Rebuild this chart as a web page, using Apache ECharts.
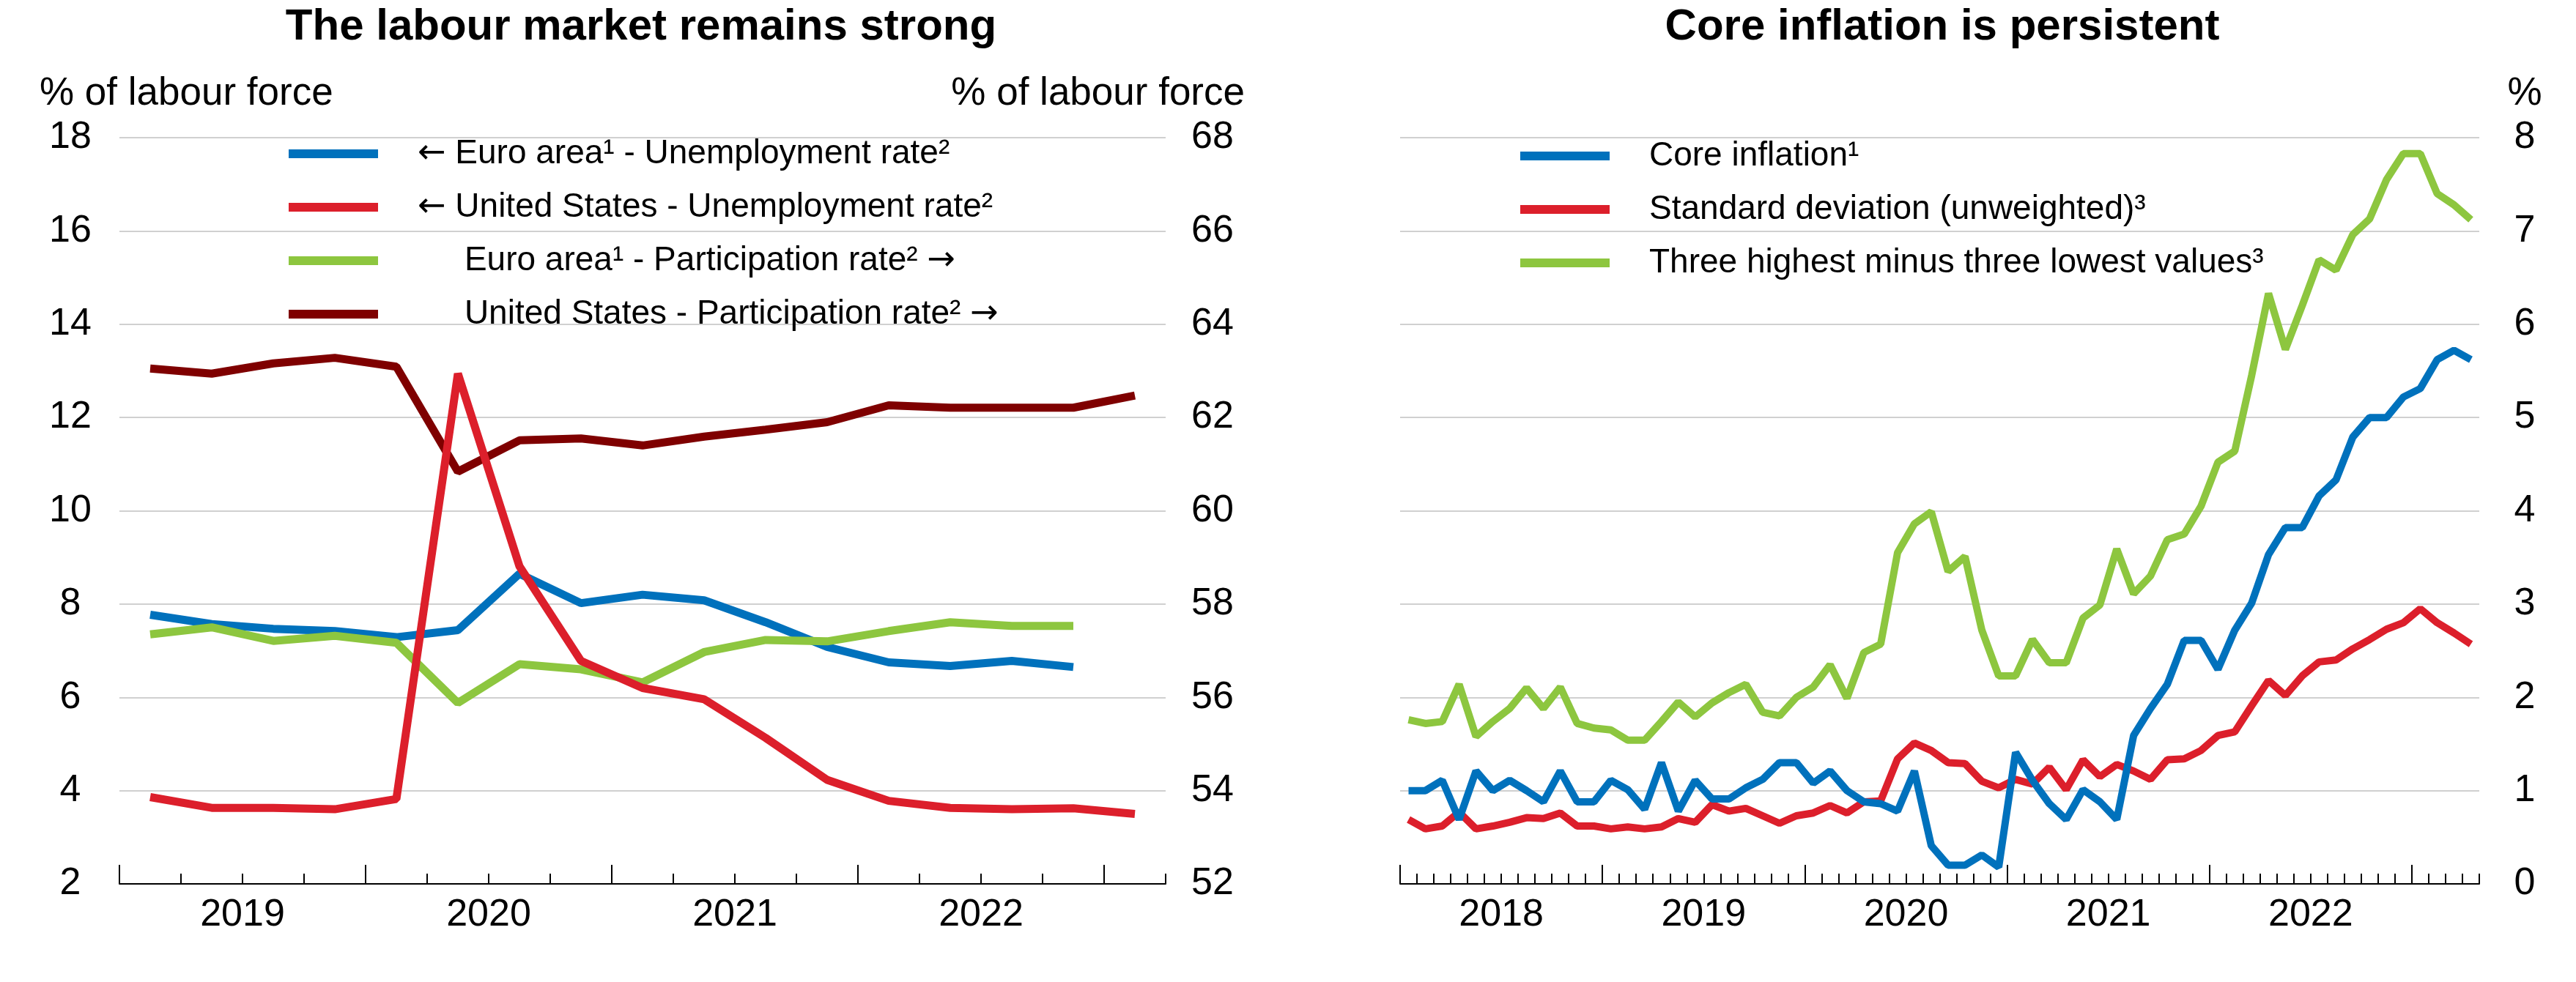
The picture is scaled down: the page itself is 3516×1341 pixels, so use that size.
<!DOCTYPE html>
<html>
<head>
<meta charset="utf-8">
<script src="https://cdn.jsdelivr.net/npm/echarts@6/dist/echarts.min.js"></script>
<style>
html,body{margin:0;padding:0;background:#ffffff;}
#chart{width:3516px;height:1341px;}
</style>
</head>
<body>
<div id="chart"></div>
<script>
// ---------------- Data: left panel (quarterly) ----------------
const quarters = ['2019Q1','2019Q2','2019Q3','2019Q4','2020Q1','2020Q2','2020Q3','2020Q4',
  '2021Q1','2021Q2','2021Q3','2021Q4','2022Q1','2022Q2','2022Q3','2022Q4','2023Q1'];
const euroUnemployment = [7.77, 7.57, 7.47, 7.42, 7.29, 7.44, 8.65, 8.02, 8.20, 8.08, 7.61, 7.08, 6.75, 6.67, 6.78, 6.65];
const usUnemployment = [3.86, 3.63, 3.63, 3.60, 3.82, 12.94, 8.81, 6.78, 6.20, 5.96, 5.13, 4.23, 3.78, 3.63, 3.60, 3.62, 3.50];
const euroParticipation = [57.35, 57.50, 57.21, 57.32, 57.17, 55.88, 56.71, 56.60, 56.32, 56.97, 57.23, 57.20, 57.42, 57.61, 57.53, 57.53];
const usParticipation = [63.05, 62.94, 63.16, 63.28, 63.09, 60.84, 61.51, 61.55, 61.40, 61.59, 61.74, 61.90, 62.26, 62.21, 62.21, 62.21, 62.47];
const leftYears = ['2019', '2020', '2021', '2022'];

// ---------------- Data: right panel (monthly) ----------------
const months = [];
['2018','2019','2020','2021','2022','2023'].forEach(function (y) {
  ['01','02','03','04','05','06','07','08','09','10','11','12'].forEach(function (m) {
    if (months.length < 64) months.push(y + '-' + m);
  });
});
const coreInflation = [1.00, 1.00, 1.11, 0.69, 1.21, 1.00, 1.11, 1.00, 0.88, 1.21, 0.88, 0.88,
  1.11, 1.01, 0.80, 1.30, 0.78, 1.11, 0.91, 0.91, 1.03, 1.12, 1.30, 1.30,
  1.08, 1.21, 1.00, 0.88, 0.86, 0.78, 1.21, 0.41, 0.20, 0.20, 0.31, 0.18,
  1.41, 1.11, 0.86, 0.69, 1.01, 0.88, 0.69, 1.59, 1.88, 2.14, 2.61, 2.61,
  2.30, 2.72, 3.01, 3.53, 3.82, 3.82, 4.16, 4.33, 4.79, 5.00, 5.00, 5.22,
  5.31, 5.62, 5.72, 5.62];
const stdDeviation = [0.69, 0.59, 0.62, 0.77, 0.59, 0.62, 0.66, 0.71, 0.70, 0.76, 0.62, 0.62,
  0.59, 0.61, 0.59, 0.61, 0.70, 0.66, 0.85, 0.78, 0.81, 0.73, 0.65, 0.73,
  0.76, 0.84, 0.76, 0.88, 0.89, 1.34, 1.51, 1.43, 1.30, 1.29, 1.10, 1.03,
  1.12, 1.07, 1.25, 1.01, 1.33, 1.15, 1.28, 1.21, 1.12, 1.33, 1.34, 1.43,
  1.59, 1.63, 1.91, 2.18, 2.02, 2.23, 2.38, 2.40, 2.52, 2.62, 2.73, 2.80,
  2.95, 2.80, 2.69, 2.57];
const highMinusLow = [1.76, 1.72, 1.74, 2.14, 1.58, 1.74, 1.88, 2.10, 1.88, 2.11, 1.72, 1.67,
  1.65, 1.54, 1.54, 1.74, 1.95, 1.79, 1.94, 2.05, 2.14, 1.84, 1.80, 2.00,
  2.11, 2.35, 1.99, 2.48, 2.57, 3.55, 3.86, 3.99, 3.35, 3.51, 2.72, 2.23,
  2.23, 2.62, 2.37, 2.37, 2.85, 2.99, 3.59, 3.11, 3.30, 3.69, 3.75, 4.05,
  4.52, 4.64, 5.45, 6.33, 5.73, 6.20, 6.69, 6.58, 6.96, 7.13, 7.55, 7.83,
  7.83, 7.40, 7.28, 7.12];
const rightYears = ['2018', '2019', '2020', '2021', '2022'];

// ---------------- Names & styles ----------------
const N = {
  euU: '\u2190 Euro area\u00b9 - Unemployment rate\u00b2',
  usU: '\u2190 United States - Unemployment rate\u00b2',
  euP: '     Euro area\u00b9 - Participation rate\u00b2 \u2192',
  usP: '     United States - Participation rate\u00b2 \u2192',
  core: 'Core inflation\u00b9',
  sd: 'Standard deviation (unweighted)\u00b3',
  hl: 'Three highest minus three lowest values\u00b3'
};
const BLUE = '#0071bc', RED = '#dc1f2b', GREEN = '#8dc63f', BROWN = '#7f0000';
const FONT = "'Liberation Sans', Arial, sans-serif";
const GRIDC = '#d0d0d0';
const TICKFS = 52, NAMEFS = 53, LEGFS = 46;

// year-start ticks & mid-year label positions derived from categories
function yearTicks(cats, per) {
  const ticks = [], labels = [];
  cats.forEach(function (c, i) {
    if (i % per === 0) {
      ticks.push(i);
      if (i + per <= cats.length) labels.push(i + per / 2);
    }
  });
  return {ticks: ticks, labels: labels};
}
const lt = yearTicks(quarters, 4);
const rt = yearTicks(months, 12);

const gridL = {left: 163, top: 188, width: 1428, height: 1019, containLabel: false, outerBoundsMode: 'none'};
const gridR = {left: 1911, top: 188, width: 1473, height: 1019, containLabel: false, outerBoundsMode: 'none'};

function catAxis(gridIndex, data) {
  return {
    type: 'category', gridIndex: gridIndex, data: data, boundaryGap: true,
    axisLine: {show: true, lineStyle: {color: '#000', width: 2}},
    axisTick: {show: true, interval: 0, inside: true, length: 14, lineStyle: {color: '#000', width: 2}},
    axisLabel: {show: false}, splitLine: {show: false}
  };
}
function yearAxis(gridIndex, n, tk, names) {
  return {
    type: 'value', gridIndex: gridIndex, min: 0, max: n,
    axisLine: {show: false},
    axisTick: {show: true, inside: true, length: 26, customValues: tk.ticks, lineStyle: {color: '#000', width: 2}},
    axisLabel: {show: true, customValues: tk.labels, margin: 17, fontSize: TICKFS, color: '#000', fontFamily: FONT,
      formatter: function (v) { const k = tk.labels.indexOf(v); return k >= 0 ? names[k] : ''; }},
    splitLine: {show: false}, minorTick: {show: false}
  };
}
function line(name, data, xi, yi, color, width) {
  return {
    name: name, type: 'line', xAxisIndex: xi, yAxisIndex: yi, data: data,
    showSymbol: false, symbol: 'none', silent: true,
    lineStyle: {color: color, width: width}, itemStyle: {color: color},
    emphasis: {disabled: true}
  };
}
function legendFormatter(name) {
  return name.replace('\u2190', '{a|\u2190}').replace('\u2192', '{a|\u2192}');
}
const legendText = {fontSize: LEGFS, color: '#000', fontFamily: FONT, padding: [0, 0, 0, 49],
  rich: {a: {fontSize: LEGFS, color: '#000', fontFamily: "'DejaVu Sans', sans-serif"}}};
const titleText = {color: '#000', fontFamily: FONT};
const option = {
  animation: false,
  backgroundColor: '#ffffff',
  title: [
    {text: 'The labour market remains strong', left: 875, top: 7, textAlign: 'center', textVerticalAlign: 'top', padding: 0,
      textStyle: Object.assign({fontSize: 60, fontWeight: 'bold'}, titleText)},
    {text: 'Core inflation is persistent', left: 2651, top: 7, textAlign: 'center', textVerticalAlign: 'top', padding: 0,
      textStyle: Object.assign({fontSize: 60, fontWeight: 'bold'}, titleText)},
    {text: '% of labour force', left: 54, top: 102, textAlign: 'left', textVerticalAlign: 'top', padding: 0,
      textStyle: Object.assign({fontSize: NAMEFS, fontWeight: 'normal'}, titleText)},
    {text: '% of labour force', left: 1699, top: 102, textAlign: 'right', textVerticalAlign: 'top', padding: 0,
      textStyle: Object.assign({fontSize: NAMEFS, fontWeight: 'normal'}, titleText)},
    {text: '%', left: 3446, top: 102, textAlign: 'center', textVerticalAlign: 'top', padding: 0,
      textStyle: Object.assign({fontSize: NAMEFS, fontWeight: 'normal'}, titleText)}
  ],
  legend: [
    {data: [N.euU, N.usU, N.euP, N.usP], orient: 'vertical', left: 394, top: 187, padding: 0,
      itemWidth: 122, itemHeight: 12, itemGap: 27, icon: 'rect', selectedMode: false,
      itemStyle: {borderWidth: 0}, formatter: legendFormatter, textStyle: legendText},
    {data: [N.core, N.sd, N.hl], orient: 'vertical', left: 2075, top: 190, padding: 0,
      itemWidth: 122, itemHeight: 12, itemGap: 27, icon: 'rect', selectedMode: false,
      itemStyle: {borderWidth: 0}, textStyle: legendText}
  ],
  grid: [gridL, gridR, Object.assign({}, gridL), Object.assign({}, gridR)],
  xAxis: [
    catAxis(0, quarters),
    catAxis(1, months),
    yearAxis(2, quarters.length, lt, leftYears),
    yearAxis(3, months.length, rt, rightYears)
  ],
  yAxis: [
    {type: 'value', gridIndex: 0, position: 'left', min: 2, max: 18, interval: 2,
      axisLine: {show: false}, axisTick: {show: false},
      axisLabel: {fontSize: TICKFS, color: '#000', fontFamily: FONT, margin: 67, align: 'center'},
      splitLine: {show: true, lineStyle: {color: GRIDC, width: 2}}},
    {type: 'value', gridIndex: 0, position: 'right', min: 52, max: 68, interval: 2,
      axisLine: {show: false}, axisTick: {show: false},
      axisLabel: {fontSize: TICKFS, color: '#000', fontFamily: FONT, margin: 64, align: 'center'},
      splitLine: {show: false}},
    {type: 'value', gridIndex: 1, position: 'right', min: 0, max: 8, interval: 1,
      axisLine: {show: false}, axisTick: {show: false},
      axisLabel: {fontSize: TICKFS, color: '#000', fontFamily: FONT, margin: 62, align: 'center'},
      splitLine: {show: true, lineStyle: {color: GRIDC, width: 2}}},
    {type: 'value', gridIndex: 2, show: false, min: 0, max: 1, splitLine: {show: false}},
    {type: 'value', gridIndex: 3, show: false, min: 0, max: 1, splitLine: {show: false}}
  ],
  series: [
    line(N.euU, euroUnemployment, 0, 0, BLUE, 11),
    line(N.euP, euroParticipation, 0, 1, GREEN, 11),
    line(N.usP, usParticipation, 0, 1, BROWN, 11),
    line(N.usU, usUnemployment, 0, 0, RED, 11),
    line(N.hl, highMinusLow, 1, 2, GREEN, 10),
    line(N.sd, stdDeviation, 1, 2, RED, 10),
    line(N.core, coreInflation, 1, 2, BLUE, 10)
  ]
};
const chart = echarts.init(document.getElementById('chart'), null, {renderer: 'canvas'});
chart.setOption(option);
</script>
</body>
</html>
